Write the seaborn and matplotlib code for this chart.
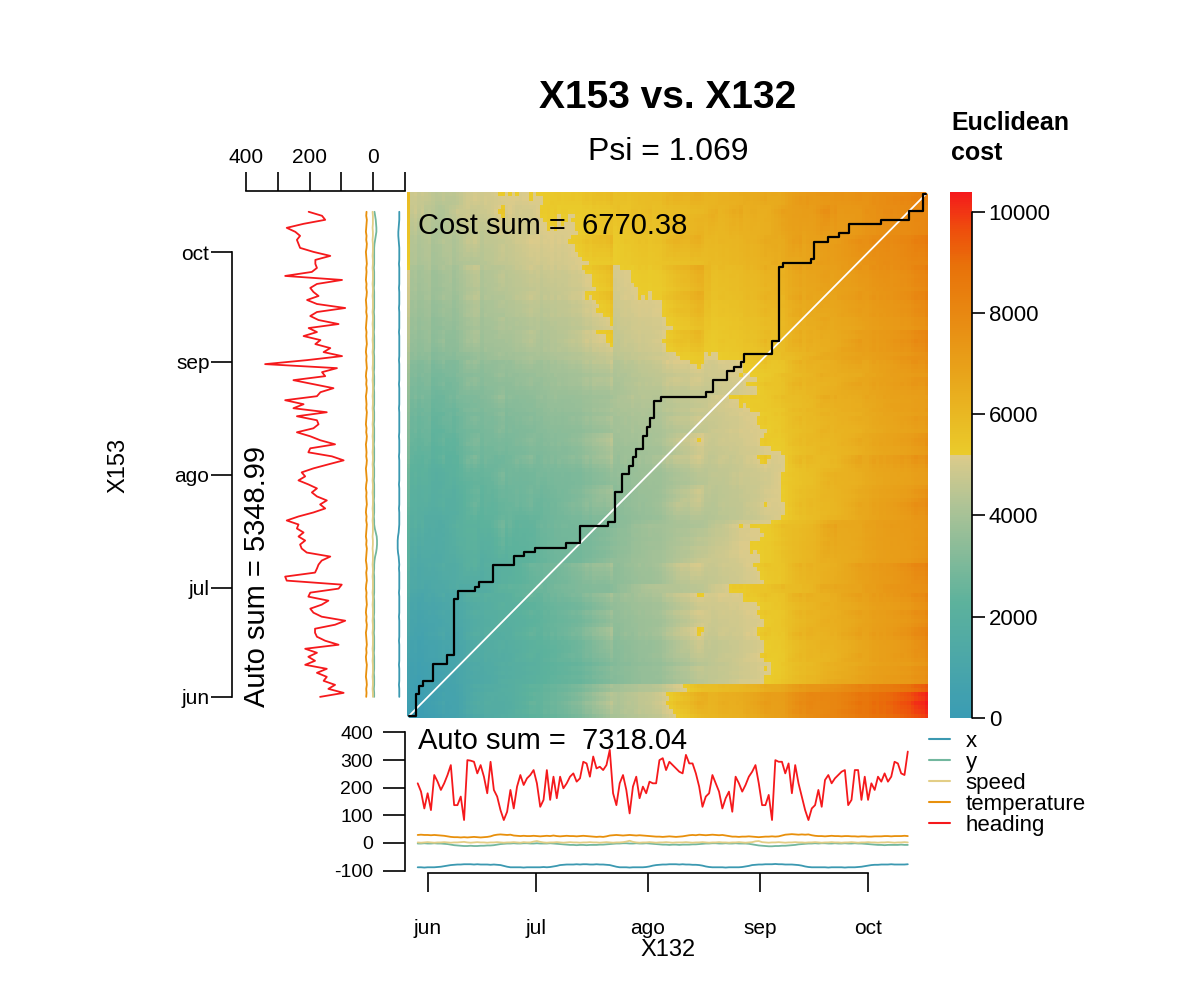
import numpy as np
import pandas as pd
import matplotlib
matplotlib.use("Agg")
import matplotlib.pyplot as plt
import matplotlib.dates as mdates
from matplotlib import transforms
from matplotlib.colors import LinearSegmentedColormap
from matplotlib.lines import Line2D
import seaborn as sns

# ---- data ----
var_names = ["x", "y", "speed", "temperature", "heading"]
var_colors = ["#3B99B1", "#72B79E", "#E3CE86", "#E8900C", "#F5191C"]

# X132 (horizontal series), from late May to mid October
start_132, end_132 = "2017-05-29 04:00", "2017-10-12 00:00"
heading_132 = [216, 186, 125, 180, 119, 246, 222, 192, 216, 246, 282, 137, 137, 168, 83, 300, 298, 294, 252, 282,
               240, 180, 294, 192, 168, 119, 83, 113, 192, 125, 204, 246, 210, 234, 246, 264, 216, 131, 156, 264,
               156, 240, 162, 240, 198, 216, 240, 252, 222, 234, 294, 288, 240, 313, 270, 276, 264, 282, 337, 180,
               137, 216, 246, 192, 107, 204, 240, 162, 204, 180, 222, 216,
               216, 300, 307, 264, 294, 282, 270, 258, 252, 319, 288, 288, 252, 204, 131, 168, 180, 246, 216, 186,
               125, 162, 186, 113, 240, 216, 186, 210, 240, 258, 282, 216, 137, 137, 174, 83, 300, 294, 294, 252,
               288, 180, 282, 216, 168, 119, 83, 125, 137, 192, 131, 228, 246, 216, 234, 246, 258, 264, 137, 156,
               264, 264, 156, 240, 156, 216, 192, 240, 222, 252, 222, 240, 294, 288, 252, 246, 331]
x_132 = [-88, -88, -89, -88, -88, -88, -87, -86, -84, -82,
         -80, -79, -78, -78, -77, -77, -77, -78, -77, -78, -78, -78, -79, -78, -79, -80, -83,
         -86, -88, -88, -88, -88, -89, -88, -88, -88, -88, -88, -87, -88, -87, -85, -83,
         -80, -79, -78, -78, -78, -77, -78, -77, -77, -78, -78, -77, -78, -78, -79, -80, -83,
         -86, -88, -88, -88, -89, -88, -88, -88, -88, -87, -85, -82,
         -80, -79, -78, -78, -77, -77, -77, -78, -77, -78, -78, -79, -79, -80, -82, -85,
         -87, -88, -88, -88, -88, -89, -88, -88, -88, -88, -87, -85, -83,
         -80, -79, -78, -78, -77, -77, -77, -76, -77, -77, -78, -78, -78, -79, -80, -82, -85,
         -87, -88, -88, -88, -88, -88, -89, -88, -88, -88, -88, -89, -88, -88, -88, -87, -86, -84, -82,
         -80, -79, -79, -78, -78, -78, -77, -78, -78, -78, -78, -77]
y_132 = [-2, -2, -1, -2, -2, -1, -2, -2, -3, -4,
         -6, -8, -9, -10, -11, -11, -10, -11, -11, -10, -10, -9, -9, -8, -6, -4, -3,
         -2, -2, -1, -2, -2, -1, -1, -2, -2, -1, -2, -2, -2, -1, -2, -3,
         -4, -5, -6, -7, -7, -8, -7, -7, -8, -7, -7, -7, -6, -6, -5, -4, -3,
         -2, -2, -1, -1, -2, -2, -1, -2, -2, -1, -2, -3,
         -4, -5, -6, -6, -7, -6, -6, -7, -6, -6, -6, -5, -5, -4, -3, -2,
         -2, -1, -1, -2, -2, -1, -2, -2, -1, -2, -2, -2, -3,
         -5, -7, -9, -10, -11, -12, -12, -11, -11, -10, -10, -9, -8, -7, -5, -4, -3,
         -2, -2, -1, -2, -1, -1, -2, -2, -1, -2, -2, -1, -2, -2, -1, -2, -2, -3, -4,
         -5, -6, -7, -7, -8, -7, -7, -7, -7, -6, -7, -7]
speed_132 = [2, 1, 2, 3, 2, 1, 2, 2, 3, 2, 1, 2, 2, 3, 4, 2, 1, 2, 3, 2,
             2, 1, 2, 2, 3, 2, 1, 2, 2, 3, 2, 1, 3, 2, 2, 5, 7, 4, 2, 1,
             2, 2, 3, 2, 1, 2, 3, 2, 2, 1, 2, 2, 3, 2, 2, 1, 2, 3, 2, 1,
             2, 2, 3, 5, 8, 4, 2, 1, 2, 2, 3, 2, 1, 2, 2, 3, 2, 1, 2, 2,
             2, 3, 2, 1, 2, 2, 3, 2, 1, 2, 2, 3, 2, 2, 1, 2, 2, 3, 2, 1,
             2, 3, 6, 7, 3, 2, 1, 2, 2, 3, 2, 1, 2, 2, 3, 2, 2, 1, 2, 2,
             3, 2, 1, 2, 2, 3, 2, 2, 1, 2, 2, 3, 2, 1, 2, 2, 3, 2, 2, 1,
             2, 2, 3, 2, 1, 2, 2, 3, 2]
temperature_132 = [29, 30, 29, 29, 28, 29, 28, 27, 26, 24,
                   22, 21, 21, 20, 21, 20, 21, 22, 21, 20, 21, 22, 24,
                   28, 30, 31, 30, 29, 30,
                   27, 26, 25, 26, 25, 25, 26, 25, 24, 25, 26, 25, 27, 25, 24, 25, 26, 25, 25, 24, 25, 26, 25, 24,
                   23, 22, 23, 22, 24,
                   27, 28, 29, 28, 27, 28, 29, 28, 27, 28, 27, 26, 25, 24,
                   23, 23, 22, 23, 24, 23, 22, 23, 24, 26,
                   28, 29, 28, 30, 29, 28, 29, 30, 29, 28, 29, 27, 25,
                   23, 23, 22, 23, 23, 24, 23, 22, 21, 22, 23, 23, 24, 23, 24, 27,
                   30, 31, 32, 31, 30, 31, 30, 31, 28,
                   26, 25, 25, 24, 25, 26, 25, 25, 24, 25, 25, 24, 24, 23, 24, 24, 23, 23, 24, 24, 24, 25, 25, 24,
                   25, 25, 25, 26, 25]

# X153 (vertical series), from June to mid October
start_153, end_153 = "2017-06-01 00:00", "2017-10-12 04:00"
heading_153 = [167, 93, 141, 120, 156, 146, 177, 146, 214, 183, 204, 177, 214, 109, 151, 177, 183, 183, 120, 88,
               162, 188, 198, 162, 141, 204, 198, 109, 99, 272, 277,
               183, 177, 172, 162, 135, 209, 225, 230, 214, 235, 219, 240, 235, 272, 235, 188, 151, 167, 146, 177,
               193, 177, 204, 235, 214, 225, 188, 141, 93, 130, 204, 198, 120,
               166, 198, 240, 188, 172, 177,
               240, 146, 251, 219, 277, 177, 166, 125, 188, 251, 151, 161, 114, 340, 208, 98, 156, 135, 182, 166,
               219, 177, 203, 109, 172, 198, 177, 88, 177, 208, 172, 188, 198, 177, 98, 277, 193, 177, 182, 182,
               135, 188, 230, 235, 240, 230, 245, 272, 219, 151, 161, 203]
x_153 = [-82, -82, -82, -81, -82, -82, -82, -82, -81, -82,
         -82, -82, -82, -82, -81, -82, -82, -82, -82, -82,
         -81, -82, -82, -82, -82, -82, -81, -82, -82, -82,
         -82, -82, -81, -82, -81, -80, -78, -77, -77, -77,
         -78, -80, -81, -82, -82, -82, -82, -81, -82, -82,
         -82, -82, -82, -81, -82, -82, -82, -82, -82, -82,
         -81, -82, -82, -82, -82, -81, -82, -82, -82, -82,
         -82, -82, -81, -82, -82, -82, -82, -82, -81, -82,
         -82, -82, -82, -82, -81, -82, -82, -82, -82, -82,
         -82, -81, -82, -82, -82, -82, -82, -81, -82, -82,
         -82, -82, -81, -82, -82, -82, -82, -82, -81, -82,
         -82, -82, -82, -81, -80, -79, -79, -80, -81, -82,
         -82, -82]
y_153 = [-3, -3, -2, -3, -3, -3, -2, -3, -3, -3,
         -3, -2, -3, -3, -3, -3, -2, -3, -3, -3,
         -2, -3, -3, -3, -3, -2, -3, -3, -3, -3,
         -3, -2, -3, -3, -4, -6, -9, -11, -12, -12,
         -11, -8, -5, -3, -3, -2, -3, -3, -3, -2,
         -3, -3, -3, -3, -2, -3, -3, -3, -2, -3,
         -3, -3, -3, -2, -3, -3, -3, -3, -2, -3,
         -3, -3, -2, -3, -3, -3, -3, -2, -3, -3,
         -3, -2, -3, -3, -3, -3, -2, -3, -3, -3,
         -3, -2, -3, -3, -3, -3, -2, -3, -3, -3,
         -3, -3, -2, -3, -3, -3, -3, -2, -3, -3,
         -3, -3, -3, -4, -6, -8, -10, -10, -9, -8,
         -6, -4]
speed_153 = [1, 1, 2, 1, 1, 2, 1, 1, 1, 2, 1, 1, 2, 1, 1, 1, 2, 1, 1, 2,
             1, 1, 1, 2, 1, 1, 2, 1, 1, 1, 2, 1, 1, 2, 1, 1, 1, 2, 1, 1,
             2, 1, 1, 1, 2, 1, 1, 2, 1, 1, 1, 2, 1, 1, 2, 1, 1, 1, 2, 1,
             1, 2, 1, 1, 1, 2, 1, 1, 2, 1, 1, 1, 2, 1, 1, 2, 1, 1, 1, 2,
             1, 1, 2, 1, 1, 1, 2, 1, 1, 2, 1, 1, 1, 2, 1, 1, 2, 1, 1, 1,
             2, 1, 1, 2, 1, 1, 1, 2, 1, 1, 2, 1, 1, 1, 2, 1, 1, 2, 1, 1,
             1, 2]
temperature_153 = [22, 21, 22, 20, 21, 23, 22, 21, 20, 22, 23, 21, 22, 20, 21, 22, 23, 21, 20, 22,
                   21, 23, 22, 20, 21, 22, 21, 23, 22, 20, 21, 22, 20, 21, 23, 22, 21, 20, 22, 21,
                   23, 22, 21, 20, 22, 21, 23, 22, 20, 21, 22, 21, 23, 22, 20, 21, 22, 23, 21, 20,
                   22, 21, 22, 23, 21, 20, 22, 21, 23, 22, 21, 20, 22, 21, 22, 23, 21, 20, 22, 21,
                   23, 22, 20, 21, 22, 21, 23, 22, 20, 21, 22, 21, 23, 22, 21, 20, 22, 21, 22, 23,
                   21, 20, 22, 21, 23, 22, 21, 22, 20, 21, 22, 23, 21, 20, 22, 21, 23, 22, 21, 20,
                   22, 21]

month_starts = ["2017-06-01", "2017-07-01", "2017-08-01", "2017-09-01", "2017-10-01"]
month_labels = ["jun", "jul", "ago", "sep", "oct"]

title = "X153 vs. X132"
psi_text = "Psi = 1.069"
cost_text = "Cost sum =  6770.38"
auto_132_text = "Auto sum =  7318.04"
auto_153_text = "Auto sum = 5348.99"

# ---- tables ----
t132 = mdates.date2num(pd.date_range(start_132, end_132, periods=len(heading_132)))
t153 = mdates.date2num(pd.date_range(start_153, end_153, periods=len(heading_153)))
df132 = pd.DataFrame({"time": t132, "x": x_132, "y": y_132, "speed": speed_132,
                      "temperature": temperature_132, "heading": heading_132})
df153 = pd.DataFrame({"time": t153, "x": x_153, "y": y_153, "speed": speed_153,
                      "temperature": temperature_153, "heading": heading_153})
long132 = df132.melt(id_vars="time", var_name="variable", value_name="value")
long153 = df153.melt(id_vars="time", var_name="variable", value_name="value")

# accumulated euclidean cost (orthogonal steps only) and least cost path
a = df153[var_names].to_numpy(float)
b = df132[var_names].to_numpy(float)
dist = np.sqrt(((a[:, None, :] - b[None, :, :]) ** 2).sum(axis=2))
n, m = dist.shape
acc = np.zeros((n, m))
for i in range(n):
    for j in range(m):
        if i == 0 and j == 0:
            prev = 0
        elif i == 0:
            prev = acc[i, j - 1]
        elif j == 0:
            prev = acc[i - 1, j]
        else:
            prev = min(acc[i - 1, j], acc[i, j - 1])
        acc[i, j] = dist[i, j] + prev

path = [(n - 1, m - 1)]
i, j = n - 1, m - 1
while i > 0 or j > 0:
    if i == 0:
        j -= 1
    elif j == 0:
        i -= 1
    elif acc[i - 1, j] <= acc[i, j - 1]:
        i -= 1
    else:
        j -= 1
    path.append((i, j))
path = np.array(path[::-1])

# ---- figure ----
sns.set_style("white")
plt.rcParams["font.family"] = ["Liberation Sans", "DejaVu Sans"]
plt.rcParams["text.color"] = "black"
plt.rcParams["xtick.color"] = "black"
plt.rcParams["ytick.color"] = "black"
plt.rcParams["axes.unicode_minus"] = False

cmap = LinearSegmentedColormap.from_list("cost", [
    (0.0, "#3A9CB4"), (0.22, "#5DB29C"), (0.40, "#ADC396"), (0.499, "#DCCB8A"),
    (0.5, "#EACB2B"), (0.66, "#E8A31A"), (0.86, "#E8720A"), (0.93, "#EE4E0C"), (1.0, "#F5191C")])

W, H = 1200, 1000
fig = plt.figure(figsize=(12, 10), dpi=100)

def px_axes(x0, y0, x1, y1):
    return fig.add_axes([x0 / W, 1 - y1 / H, (x1 - x0) / W, (y1 - y0) / H])

ax_heat = px_axes(407, 192, 928, 718)
cax = px_axes(950, 192, 972, 718)
ax_bot = px_axes(407, 722, 928, 873)
ax_left = px_axes(240, 192, 405, 718)

sns.heatmap(acc, ax=ax_heat, cmap=cmap, vmin=0, vmax=acc.max(), cbar_ax=cax,
            xticklabels=False, yticklabels=False, rasterized=True)
ax_heat.invert_yaxis()
ax_heat.plot([0, m], [0, n], color="white", lw=1.3)
ax_heat.plot(path[:, 1] + 0.5, path[:, 0] + 0.5, color="black", lw=1.6)
ax_heat.set_xlabel("")
ax_heat.set_ylabel("")

cb_ticks = [v for v in [0, 2000, 4000, 6000, 8000, 10000, 12000] if v <= acc.max()]
cbar = ax_heat.collections[0].colorbar
cbar.outline.set_visible(False)
cbar.set_ticks(cb_ticks)
cax.tick_params(length=9, width=1.2, labelsize=16, pad=3)
cax.plot([1, 1], [0, cb_ticks[-1]], color="black", lw=1.2, clip_on=False,
         transform=transforms.blended_transform_factory(cax.transAxes, cax.transData))

palette = dict(zip(var_names, var_colors))
jun1 = mdates.date2num(pd.Timestamp(month_starts[0]))
tlim = (jun1 - 5.8, jun1 + 138.6)
mticks = mdates.date2num(pd.to_datetime(month_starts))

# bottom panel (X132)
sns.lineplot(data=long132, x="time", y="value", hue="variable", palette=palette,
             estimator=None, legend=False, lw=1.3, ax=ax_bot)
ax_bot.set_xlim(tlim)
ax_bot.set_ylim(-108.7, 438)
ax_bot.set_xlabel("")
ax_bot.set_ylabel("")
for s in ["top", "right"]:
    ax_bot.spines[s].set_visible(False)
ax_bot.spines["left"].set_position(("outward", 1.5))
ax_bot.spines["left"].set_bounds(-100, 400)
ax_bot.spines["bottom"].set_bounds(mticks[0], mticks[-1])
ax_bot.set_yticks([400, 300, 200, 100, 0, -100])
ax_bot.set_xticks(mticks)
ax_bot.set_xticklabels(month_labels)
ax_bot.tick_params(axis="y", direction="out", length=16, width=1.2, labelsize=14, pad=7, left=True)
ax_bot.tick_params(axis="x", direction="out", length=14, width=1.2, labelsize=15, pad=19, bottom=True)
for s in ["left", "bottom"]:
    ax_bot.spines[s].set_linewidth(1.2)
    ax_bot.spines[s].set_color("black")

# left panel (X153)
sns.lineplot(data=long153, x="value", y="time", hue="variable", palette=palette,
             estimator=None, legend=False, lw=1.3, orient="y", ax=ax_left)
ax_left.set_xlim(419, -100)
ax_left.set_ylim(tlim)
ax_left.set_xlabel("")
ax_left.set_ylabel("")
for s in ["bottom", "right"]:
    ax_left.spines[s].set_visible(False)
ax_left.xaxis.set_ticks_position("top")
ax_left.spines["top"].set_position(("outward", 1))
ax_left.spines["top"].set_bounds(-100, 400)
ax_left.set_xticks([400, 300, 200, 100, 0, -100])
ax_left.set_xticklabels(["400", "", "200", "", "0", ""])
ax_left.spines["left"].set_position(("outward", 6))
ax_left.spines["left"].set_bounds(mticks[0], mticks[-1])
ax_left.set_yticks(mticks)
ax_left.set_yticklabels(month_labels)
ax_left.tick_params(axis="x", direction="out", length=14, width=1.2, labelsize=15, pad=3, top=True)
ax_left.tick_params(axis="y", direction="out", length=15, width=1.2, labelsize=15, pad=1, left=True)
for s in ["left", "top"]:
    ax_left.spines[s].set_linewidth(1.2)
    ax_left.spines[s].set_color("black")

# texts
fig.text(668 / W, 1 - 98 / H, title, fontsize=28, weight="bold", ha="center", va="center")
fig.text(668 / W, 1 - 152 / H, psi_text, fontsize=23, ha="center", va="center")
fig.text(418 / W, 1 - 226 / H, cost_text, fontsize=21, ha="left", va="center")
fig.text(418 / W, 1 - 741 / H, auto_132_text, fontsize=21, ha="left", va="center")
fig.text(257 / W, 1 - 707 / H, auto_153_text, fontsize=21, rotation=90, ha="center", va="bottom")
fig.text(118 / W, 1 - 465 / H, "X153", fontsize=17, rotation=90, ha="center", va="center")
fig.text(668 / W, 1 - 950 / H, "X132", fontsize=17, ha="center", va="center")
fig.text(951 / W, 1 - 138 / H, "Euclidean\ncost", fontsize=18, weight="bold",
         ha="left", va="center", linespacing=1.35)

handles = [Line2D([], [], color=c, lw=1.5) for c in var_colors]
fig.legend(handles, var_names, loc="upper left", bbox_to_anchor=(929 / W, 1 - 731 / H),
           frameon=False, fontsize=16, handlelength=0.95, handletextpad=0.7,
           labelspacing=0.0, borderaxespad=0, borderpad=0)

fig.savefig("out.png", dpi=100)
